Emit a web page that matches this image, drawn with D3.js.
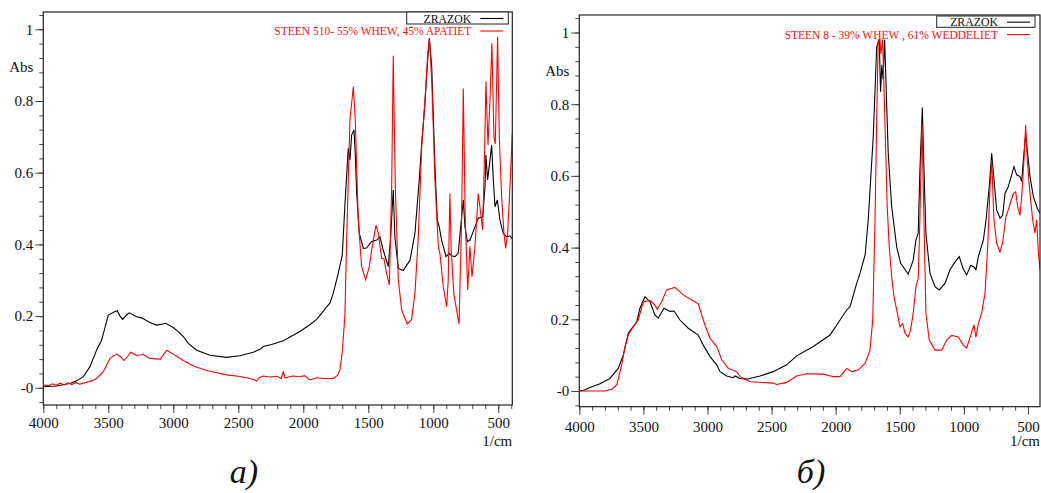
<!DOCTYPE html>
<html>
<head>
<meta charset="utf-8">
<script src="https://cdn.jsdelivr.net/npm/d3@7"></script>
<style>
  body { margin: 0; background: #fff; }
  svg { display: block; }
  svg text { font-family: "Liberation Serif", "Times New Roman", serif; }
</style>
</head>
<body>
<svg id="chart" width="1041" height="493"></svg>
<script>
// spectra: [wavenumber 1/cm, absorbance]
var zrazokA = [[4000,0.003],[3900,0.005],[3795,0.012],[3740,0.02],[3692,0.031],[3641,0.059],[3590,0.105],[3551,0.133],[3500,0.203],[3452,0.212],[3431,0.215],[3410,0.2],[3390,0.191],[3360,0.203],[3338,0.209],[3282,0.198],[3244,0.195],[3180,0.182],[3128,0.175],[3080,0.178],[3059,0.18],[3000,0.168],[2960,0.156],[2923,0.143],[2885,0.124],[2820,0.105],[2718,0.091],[2590,0.085],[2487,0.0895],[2385,0.099],[2330,0.108],[2308,0.115],[2250,0.12],[2154,0.131],[2026,0.157],[1950,0.176],[1897,0.191],[1850,0.212],[1820,0.226],[1795,0.236],[1769,0.264],[1731,0.319],[1700,0.37],[1679,0.515],[1654,0.668],[1641,0.635],[1628,0.705],[1610,0.719],[1600,0.65],[1589,0.542],[1569,0.431],[1538,0.389],[1513,0.39],[1474,0.408],[1435,0.412],[1410,0.421],[1385,0.384],[1346,0.338],[1328,0.42],[1308,0.552],[1295,0.42],[1269,0.333],[1231,0.327],[1179,0.356],[1141,0.431],[1108,0.58],[1089,0.682],[1064,0.794],[1043,0.914],[1030,0.975],[1012,0.896],[987,0.617],[969,0.468],[954,0.449],[936,0.412],[902,0.366],[877,0.375],[859,0.368],[833,0.366],[808,0.375],[789,0.449],[769,0.524],[756,0.449],[738,0.408],[718,0.412],[679,0.449],[654,0.473],[620,0.477],[602,0.561],[595,0.649],[582,0.58],[564,0.635],[551,0.677],[538,0.58],[525,0.505],[507,0.524],[487,0.468],[462,0.431],[436,0.421],[410,0.424],[392,0.415]];

var steenA = [[4000,0.008],[3960,0.006],[3930,0.011],[3900,0.007],[3870,0.013],[3840,0.008],[3810,0.014],[3780,0.009],[3750,0.015],[3720,0.01],[3692,0.013],[3660,0.016],[3620,0.02],[3590,0.026],[3538,0.045],[3487,0.082],[3436,0.094],[3410,0.088],[3379,0.076],[3350,0.088],[3328,0.099],[3282,0.09],[3231,0.093],[3179,0.082],[3100,0.08],[3051,0.105],[3000,0.094],[2923,0.076],[2846,0.061],[2743,0.048],[2590,0.036],[2500,0.032],[2436,0.028],[2380,0.023],[2359,0.019],[2340,0.028],[2308,0.033],[2260,0.03],[2200,0.032],[2170,0.026],[2154,0.045],[2140,0.028],[2080,0.033],[2026,0.031],[1990,0.034],[1949,0.022],[1900,0.028],[1846,0.026],[1769,0.026],[1735,0.035],[1718,0.05],[1700,0.1],[1680,0.2],[1666,0.42],[1641,0.747],[1615,0.84],[1600,0.747],[1577,0.468],[1551,0.338],[1520,0.301],[1492,0.338],[1474,0.384],[1441,0.454],[1423,0.431],[1397,0.361],[1379,0.36],[1359,0.319],[1338,0.287],[1320,0.561],[1308,0.926],[1292,0.561],[1269,0.301],[1243,0.217],[1200,0.178],[1167,0.19],[1141,0.264],[1115,0.421],[1089,0.672],[1064,0.8],[1043,0.93],[1030,0.975],[1010,0.84],[987,0.58],[961,0.394],[949,0.375],[923,0.282],[897,0.226],[885,0.3],[872,0.542],[862,0.384],[841,0.26],[802,0.178],[782,0.468],[769,0.835],[754,0.468],[735,0.273],[718,0.394],[702,0.31],[679,0.394],[654,0.542],[636,0.49],[620,0.44],[605,0.656],[595,0.854],[579,0.677],[564,0.8],[549,0.961],[533,0.7],[523,0.68],[505,0.979],[492,0.7],[474,0.533],[456,0.43],[443,0.389],[428,0.43],[410,0.561],[392,0.71]];

var zrazokB = [[4000,0.0],[3960,0.003],[3917,0.01],[3839,0.02],[3761,0.035],[3696,0.063],[3657,0.1],[3618,0.161],[3580,0.18],[3552,0.193],[3527,0.231],[3488,0.263],[3449,0.249],[3410,0.212],[3384,0.203],[3360,0.218],[3339,0.231],[3293,0.222],[3261,0.223],[3215,0.198],[3150,0.175],[3072,0.156],[3033,0.128],[2980,0.096],[2928,0.073],[2902,0.054],[2850,0.042],[2800,0.037],[2785,0.042],[2746,0.035],[2694,0.033],[2590,0.042],[2487,0.054],[2382,0.073],[2304,0.098],[2175,0.124],[2044,0.156],[1914,0.226],[1888,0.235],[1836,0.3],[1810,0.328],[1770,0.38],[1746,0.477],[1707,0.709],[1680,0.96],[1660,0.98],[1650,0.835],[1640,0.91],[1630,0.87],[1618,0.98],[1590,0.663],[1563,0.514],[1524,0.402],[1493,0.356],[1472,0.346],[1434,0.326],[1395,0.365],[1374,0.421],[1356,0.44],[1343,0.616],[1324,0.791],[1311,0.616],[1296,0.44],[1264,0.328],[1225,0.291],[1192,0.282],[1147,0.3],[1108,0.338],[1069,0.36],[1036,0.375],[1005,0.34],[978,0.324],[947,0.35],[921,0.346],[906,0.338],[887,0.375],[848,0.421],[827,0.477],[802,0.57],[783,0.663],[765,0.59],[744,0.505],[718,0.482],[697,0.49],[679,0.551],[653,0.57],[627,0.603],[609,0.626],[588,0.603],[562,0.598],[549,0.584],[536,0.644],[518,0.714],[497,0.644],[484,0.598],[458,0.542],[427,0.51],[406,0.496]];

var steenB = [[4000,0],[3800,0],[3747,0.005],[3708,0.017],[3669,0.073],[3643,0.124],[3618,0.156],[3579,0.179],[3540,0.198],[3501,0.249],[3449,0.252],[3410,0.24],[3392,0.228],[3358,0.249],[3319,0.282],[3254,0.289],[3189,0.268],[3123,0.254],[3072,0.243],[3020,0.184],[2980,0.147],[2928,0.124],[2889,0.087],[2837,0.063],[2772,0.054],[2746,0.04],[2668,0.026],[2487,0.022],[2461,0.018],[2382,0.024],[2304,0.042],[2226,0.048],[2096,0.047],[2018,0.04],[1966,0.04],[1914,0.063],[1875,0.054],[1823,0.059],[1771,0.077],[1732,0.114],[1711,0.198],[1693,0.477],[1680,0.756],[1668,0.979],[1655,0.98],[1647,0.94],[1634,0.98],[1616,0.756],[1598,0.514],[1582,0.402],[1563,0.319],[1545,0.263],[1524,0.226],[1498,0.179],[1477,0.188],[1459,0.161],[1434,0.151],[1416,0.17],[1395,0.217],[1374,0.291],[1356,0.314],[1343,0.477],[1327,0.747],[1311,0.477],[1296,0.217],[1270,0.142],[1225,0.114],[1173,0.114],[1134,0.142],[1095,0.155],[1044,0.151],[1005,0.128],[978,0.12],[947,0.155],[921,0.184],[906,0.15],[887,0.188],[861,0.217],[835,0.273],[814,0.402],[796,0.57],[783,0.644],[765,0.477],[744,0.412],[718,0.388],[697,0.415],[672,0.486],[646,0.514],[614,0.551],[596,0.556],[580,0.514],[562,0.49],[549,0.542],[531,0.644],[518,0.742],[505,0.644],[484,0.551],[463,0.477],[445,0.44],[432,0.477],[419,0.39],[406,0.338]];

var xMajor = [4000, 3500, 3000, 2500, 2000, 1500, 1000, 500];
var yMajor = [0, 0.2, 0.4, 0.6, 0.8, 1];
var legendNames = ["ZRAZOK", "STEEN 510- 55% WHEW, 45% APATIET", "STEEN 8 - 39% WHEW , 61% WEDDELIET"];
var panelLabels = ["a)", "б)"];

var serif = "'Liberation Serif', 'Times New Roman', serif";
var svg = d3.select("#chart");

var panels = [
  { id: "a", left: 43.3, right: 512.3, top: 12, bottom: 405, xEnd: 392, y0: 387.8, y1: 29.3,
    xPad: 4.4, black: zrazokA, red: steenA, redName: legendNames[1], label: panelLabels[0], labelX: 244,
    absY: 72, legX: 406.7, legW: 101.6, legTop: 12, legH: 12 },
  { id: "b", left: 579.3, right: 1040, top: 15, bottom: 406.7, xEnd: 406, y0: 391, y1: 32.5,
    xPad: 6.5, black: zrazokB, red: steenB, redName: legendNames[2], label: panelLabels[1], labelX: 811,
    absY: 76, legX: 936.7, legW: 98.3, legTop: 16, legH: 11.3 }
];

panels.forEach(drawPanel);

function styleAxis(s) {
  s.attr("font-family", serif);
  s.select(".domain").remove();
  s.selectAll("line").attr("stroke", "#444");
  s.selectAll("text").attr("font-size", 15).attr("fill", "#111");
}

function drawPanel(p) {
  var x = d3.scaleLinear().domain([4000, p.xEnd]).range([p.left, p.right]);
  // y scale pinned by the 0 and 1 tick positions
  var y = d3.scaleLinear().domain([0, 1]).range([p.y0, p.y1]);
  var g = svg.append("g");

  // minor x ticks every 100
  var xMinor = d3.range(4000, p.xEnd, -100);
  g.append("g")
    .attr("transform", "translate(0," + p.bottom + ")")
    .call(d3.axisBottom(x).tickValues(xMinor).tickSize(4).tickSizeOuter(0).tickFormat(""))
    .call(styleAxis);

  g.append("g")
    .attr("transform", "translate(0," + p.bottom + ")")
    .call(d3.axisBottom(x).tickValues(xMajor).tickSize(8).tickSizeOuter(0).tickPadding(p.xPad).tickFormat(d3.format("d")))
    .call(styleAxis);

  // minor y ticks every 0.04
  var yDomLo = y.invert(p.bottom), yDomHi = y.invert(p.top);
  var yMinor = d3.range(-0.04, yDomHi, 0.04).filter(function (d) { return d >= yDomLo; });
  g.append("g")
    .attr("transform", "translate(" + p.left + ",0)")
    .call(d3.axisLeft(y).tickValues(yMinor).tickSize(4).tickSizeOuter(0).tickFormat(""))
    .call(styleAxis);

  g.append("g")
    .attr("transform", "translate(" + p.left + ",0)")
    .call(d3.axisLeft(y).tickValues(yMajor).tickSize(8).tickSizeOuter(0).tickPadding(2)
      .tickFormat(function (d) { return d === 0 ? "-0" : d3.format("~g")(d); }))
    .call(styleAxis);

  // clip region = plot frame
  svg.append("clipPath").attr("id", "clip-" + p.id)
    .append("rect")
    .attr("x", p.left).attr("y", p.top)
    .attr("width", p.right - p.left).attr("height", p.bottom - p.top);

  var line = d3.line()
    .x(function (d) { return x(d[0]); })
    .y(function (d) { return y(d[1]); });

  var plot = g.append("g").attr("clip-path", "url(#clip-" + p.id + ")");
  plot.append("path").datum(p.black)
    .attr("d", line).attr("fill", "none").attr("stroke", "#000").attr("stroke-width", 1.1);
  plot.append("path").datum(p.red)
    .attr("d", line).attr("fill", "none").attr("stroke", "#ff0000").attr("stroke-width", 1.1);

  // frame
  g.append("rect")
    .attr("x", p.left).attr("y", p.top)
    .attr("width", p.right - p.left).attr("height", p.bottom - p.top)
    .attr("fill", "none").attr("stroke", "#222").attr("stroke-width", 1.2);

  // axis titles
  g.append("text").attr("x", p.left - 10).attr("y", p.absY)
    .attr("text-anchor", "end").attr("font-size", 15).attr("fill", "#111").text("Abs");
  g.append("text").attr("x", p.right).attr("y", 446)
    .attr("text-anchor", "end").attr("font-size", 15).attr("fill", "#111").text("1/cm");

  // legend
  var lg = g.append("g");
  lg.append("rect")
    .attr("x", p.legX).attr("y", p.legTop)
    .attr("width", p.legW).attr("height", p.legH)
    .attr("fill", "#fff").attr("stroke", "#222").attr("stroke-width", 1);
  var sx0 = p.legX + p.legW - 28, sx1 = p.legX + p.legW - 5;
  var rowBlack = p.legTop + p.legH / 2 + 0.5;
  var rowRed = rowBlack + 12.5;
  lg.append("text").attr("x", sx0 - 9).attr("y", rowBlack + 4.2)
    .attr("text-anchor", "end").attr("font-size", 11.8).attr("fill", "#111").text(legendNames[0]);
  lg.append("line").attr("x1", sx0).attr("x2", sx1).attr("y1", rowBlack).attr("y2", rowBlack)
    .attr("stroke", "#000").attr("stroke-width", 1.1);
  lg.append("text").attr("x", sx0 - 9).attr("y", rowRed + 4.2)
    .attr("text-anchor", "end").attr("font-size", 11.5).attr("fill", "#ff1010").text(p.redName);
  lg.append("line").attr("x1", sx0).attr("x2", sx1).attr("y1", rowRed).attr("y2", rowRed)
    .attr("stroke", "#ff0000").attr("stroke-width", 1.1);

  // panel caption
  svg.append("text").attr("x", p.labelX).attr("y", 483)
    .attr("text-anchor", "middle").attr("font-size", 34).attr("font-style", "italic")
    .attr("fill", "#111").text(p.label);
}
</script>
</body>
</html>
